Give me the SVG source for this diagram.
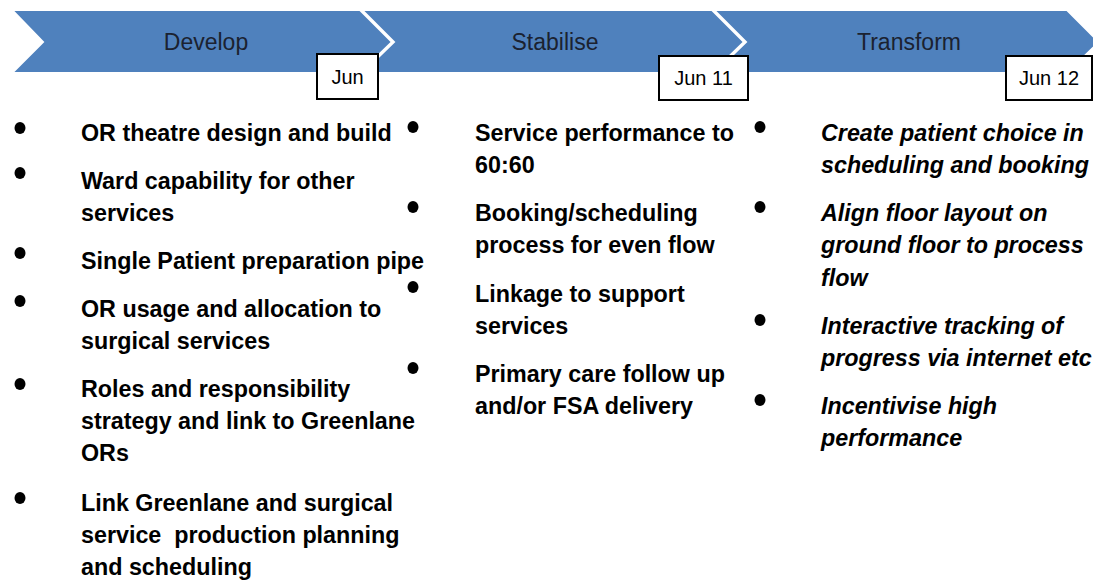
<svg xmlns="http://www.w3.org/2000/svg" width="1093" height="580" viewBox="0 0 1093 580">
  <style>
    .phase { fill: #4F81BD; stroke: #ffffff; stroke-width: 2; }
    .phase-label { font-family: "Liberation Sans", Arial, sans-serif; font-size: 23px; fill: #1b2230; text-anchor: middle; }
    .date-box { fill: #ffffff; stroke: #000000; stroke-width: 2; }
    .date-label { font-family: "Liberation Sans", Arial, sans-serif; font-size: 20px; fill: #000000; text-anchor: middle; }
    .item { font-family: "Liberation Sans", Arial, sans-serif; font-size: 23.3px; font-weight: bold; fill: #000000; }
    .item-italic { font-style: italic; }
    .dot { fill: #000000; }
  </style>

  <defs>
    <ellipse id="bullet" class="dot" cx="0" cy="0" rx="5.5" ry="6"/>
  </defs>

  <rect width="1093" height="580" fill="#ffffff"/>

  <!-- Phase chevrons -->
  <g id="phase-develop">
    <polygon class="phase" points="12,10 360,10 392,42 360,73 12,73 43,42"/>
    <text class="phase-label" x="206" y="50">Develop</text>
  </g>
  <g id="phase-stabilise">
    <polygon class="phase" points="362,10 712,10 744,42 712,73 362,73 394,42"/>
    <text class="phase-label" x="555" y="50">Stabilise</text>
  </g>
  <g id="phase-transform">
    <polygon class="phase" points="714,10 1067,10 1099,42 1067,73 714,73 746,42"/>
    <text class="phase-label" x="909" y="50">Transform</text>
  </g>

  <!-- Milestone dates -->
  <g id="date-jun">
    <rect class="date-box" x="317" y="54" width="61" height="45"/>
    <text class="date-label" x="347.5" y="84">Jun</text>
  </g>
  <g id="date-jun-11">
    <rect class="date-box" x="659" y="56" width="89" height="44"/>
    <text class="date-label" x="703.5" y="85">Jun 11</text>
  </g>
  <g id="date-jun-12">
    <rect class="date-box" x="1006" y="56" width="86" height="44"/>
    <text class="date-label" x="1049" y="85">Jun 12</text>
  </g>

  <!-- Develop items -->
  <g id="develop-items">
    <use href="#bullet" x="20" y="128"/>
    <text class="item" x="81" y="141">OR theatre design and build</text>
    <use href="#bullet" x="20" y="173"/>
    <text class="item" x="81" y="189">Ward capability for other</text>
    <text class="item" x="81" y="221">services</text>
    <use href="#bullet" x="20" y="253"/>
    <text class="item" x="81" y="269">Single Patient preparation pipe</text>
    <use href="#bullet" x="20" y="301"/>
    <text class="item" x="81" y="317">OR usage and allocation to</text>
    <text class="item" x="81" y="349">surgical services</text>
    <use href="#bullet" x="20" y="384"/>
    <text class="item" x="81" y="397">Roles and responsibility</text>
    <text class="item" x="81" y="429">strategy and link to Greenlane</text>
    <text class="item" x="81" y="461">ORs</text>
    <use href="#bullet" x="20" y="498"/>
    <text class="item" x="81" y="511">Link Greenlane and surgical</text>
    <text class="item" x="81" y="543" xml:space="preserve">service  production planning</text>
    <text class="item" x="81" y="575">and scheduling</text>
  </g>

  <!-- Stabilise items -->
  <g id="stabilise-items">
    <use href="#bullet" x="413" y="127"/>
    <text class="item" x="475" y="141">Service performance to</text>
    <text class="item" x="475" y="173">60:60</text>
    <use href="#bullet" x="413" y="207"/>
    <text class="item" x="475" y="221">Booking/scheduling</text>
    <text class="item" x="475" y="253">process for even flow</text>
    <use href="#bullet" x="413" y="287"/>
    <text class="item" x="475" y="302">Linkage to support</text>
    <text class="item" x="475" y="334">services</text>
    <use href="#bullet" x="413" y="368"/>
    <text class="item" x="475" y="382">Primary care follow up</text>
    <text class="item" x="475" y="414">and/or FSA delivery</text>
  </g>

  <!-- Transform items -->
  <g id="transform-items">
    <use href="#bullet" x="760" y="127"/>
    <text class="item item-italic" x="821" y="141">Create patient choice in</text>
    <text class="item item-italic" x="821" y="173">scheduling and booking</text>
    <use href="#bullet" x="760" y="207"/>
    <text class="item item-italic" x="821" y="221">Align floor layout on</text>
    <text class="item item-italic" x="821" y="253">ground floor to process</text>
    <text class="item item-italic" x="821" y="286">flow</text>
    <use href="#bullet" x="760" y="320"/>
    <text class="item item-italic" x="821" y="334">Interactive tracking of</text>
    <text class="item item-italic" x="821" y="366">progress via internet etc</text>
    <use href="#bullet" x="760" y="400"/>
    <text class="item item-italic" x="821" y="414">Incentivise high</text>
    <text class="item item-italic" x="821" y="446">performance</text>
  </g>
</svg>
